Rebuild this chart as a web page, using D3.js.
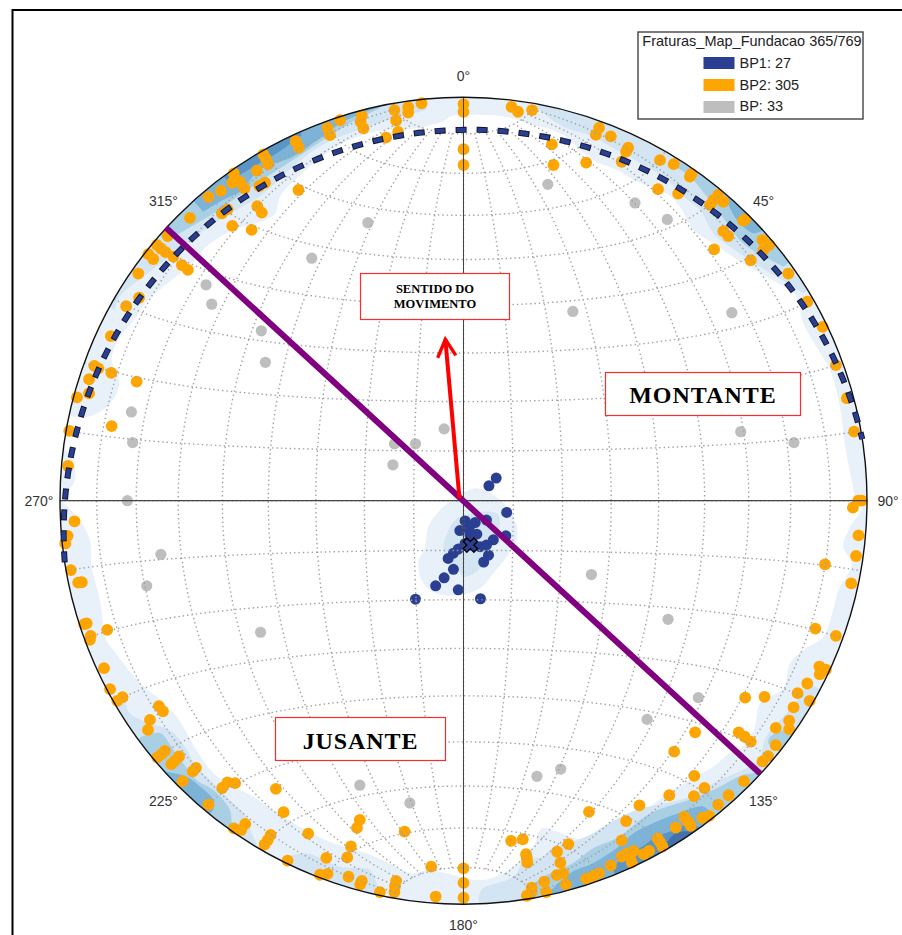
<!DOCTYPE html>
<html>
<head>
    <title>Fraturas Map Fundacao</title>
    <script src="https://d3js.org/d3.v7.min.js"></script>
    <style>
        html, body { margin: 0; padding: 0; background: #fff; overflow: hidden; }
    </style>
</head>
<body>
    <svg id="chart" width="902" height="935"></svg>

    <script>
        const polesBP1 = [[8.1,5.6],[6.3,3.7],[10.7,-2.9],[0.4,-5],[2.9,-5.4],[5.7,-4.8],[-0.9,-7.4],[1.4,-6.8],[1.6,-8.5],[3.3,-8.3],[10.5,-8.7],[7.4,-9.7],[5.7,-11],[4.1,-11.4],[-1.3,-12],[-2.5,-13],[-3.8,-14.3],[6.2,-13.5],[5,-15.2],[-2.5,-17],[-4.8,-19.1],[-6.9,-21.1],[-1.3,-22.1],[-11.9,-24.4],[4.2,-24.3],[1.6,-11],[0.4,-10.6]];
        const polesBP2 = [
            [-10.4,98.5],[-13.7,97.5],[-13.7,96.2],[-17.1,96.8],[-16.7,94.2],[-16.2,91.4],[-19.2,90],[-25.2,95.4],[-25.5,93.9],[-24.8,92.3],
            [-30.6,94.3],[-33.7,92.4],[-33.1,90.6],[-41.6,89.1],[-40.8,87.5],[-49.6,85.8],[-49,84.8],[-48.4,83.4],[-51.2,81.8],[-56.9,81.1],
            [-57.3,78.8],[-55.4,79],[-54.3,77.4],[-49.2,78.8],[-50.6,78],[-60.1,76.8],[-63.2,75.3],[-40.9,77],[-58.5,72.2],[-59.9,71.2],
            [-67.8,70.1],[-51.1,73],[-50,71.4],[-57.3,68.1],[-52.5,67.1],[-73.3,65.6],[-76,63.4],[-75,62.5],[-73.8,61.6],[-78.1,61.1],
            [-76.9,59.9],[-71.9,60.5],[-69.8,58.4],[-68.3,57.2],[-80.6,56.3],[-80.4,50.3],[-83.6,48.2],[-87.4,40.8],[-91.5,33.4],[-90.5,32.8],
            [-87.3,31.7],[-92.8,30.1],[-81,29.5],[-92.8,26.6],[-95.8,25.6],[-87.2,18.5],[-97.7,17.3],[-98,8.6],[-96.4,-5.1],[-98.1,-8.7],
            [-98.7,-10.6],[-97.3,-17.2],[-95.5,-20.3],[-94.6,-20.2],[-94,-30.6],[-93.4,-30.4],[-92.4,-33.5],[-88.3,-32],
            [0,98.3],[0,96.4],[0,87.1],[0,83.2],[11.9,97.6],[13.5,96.4],[17,96.8],[33.6,92.4],[32.8,90.7],[36.5,90.3],
            [21.9,88.3],[22.3,83.2],[30.4,83.8],[40.8,87.5],[40.3,86.5],[39.2,84],[48.7,84.4],[52.1,83.4],[56.5,81],[56.1,80.3],
            [48.2,77.2],[53.2,76.1],[63.1,75.8],[61.9,74.5],[64.4,74.1],[61.1,73.3],[69.8,69.7],[69.3,69.4],[64.4,66.8],[65.6,65.6],
            [62.1,62.3],[74.1,64.6],[75.8,63.4],[74.3,62.1],[71.2,59.6],[80.5,56.3],[85.2,49.3],[89,43.1],[92.3,33.6],[95,25.4],
            [96.8,17.1],[98.7,0],[97.8,0],[96.5,-1.7],[97.9,-8.6],[97.3,-13.7],[89.6,-15.8],[96.1,-20.5],[87.2,-31.7],[92.3,-33.5],
            [-92.6,-34.5],[-89.1,-41.5],[-87.6,-46.7],[-84.5,-48.7],[-85.8,-49.6],[-75.5,-50.9],[-74.5,-52.2],[-77.7,-54.3],[-78.2,-56.8],[-74,-62],
            [-74.8,-62.8],[-75.9,-63.6],[-70.5,-63.4],[-71.5,-64.4],[-72.4,-65.3],[-66.3,-66.2],[-67.1,-67.1],[-69.6,-69.5],[-58.5,-69.8],[-56.6,-70],
            [-59.8,-71.2],[-46.5,-71.4],[-63.2,-75.3],[-44.6,-77.2],[-54.1,-80.1],[-55.1,-81.6],[-56.9,-81.2],[-47.8,-82.8],[-48.5,-84.1],[-49.3,-85.2],
            [-38.5,-82.5],[-25.7,-79.1],[-26.4,-81.1],[-14.6,-82],[-27.9,-85.7],[-28.8,-88.4],[-34,-88.5],[-43.6,-89.2],[-33.7,-92.5],[-35.6,-92.7],
            [-28.5,-93.2],[-25.2,-94.2],[-25.6,-95.1],[-20.7,-97],[-16.7,-94.2],[-17,-95.6],[-17.1,-97],[-8,-90.7],[-6.9,-98.1],
            [0,-91.1],[0,-94.7],[0,-98.4],[11.8,-84.3],[14.7,-83.9],[15.5,-87.6],[15.7,-88.6],[15.8,-89.7],[26,-85.1],[23.2,-87],
            [24,-89.7],[24.7,-92.3],[23.1,-92.8],[25.4,-95.1],[20,-94.4],[16.9,-95.9],[16.9,-97],[15.7,-97.9],[20.5,-97],[31.1,-77.1],
            [40.3,-79.4],[43.6,-75.5],[39.2,-84.2],[36.5,-90.4],[33.6,-92.3],[32.2,-93],[30.4,-93.6],[39.2,-88.2],[40.6,-87.4],[42.2,-86.8],
            [41.3,-88.2],[41.7,-89.7],[44.7,-87.6],[46,-86.8],[48.1,-83.7],[48.7,-84.6],[49.3,-85.7],[52.6,-81],[54.7,-78.3],[55.6,-79.5],
            [56.3,-80.6],[51,-73],[57.2,-68.2],[52.2,-62.2],[57.4,-57.4],[57.1,-73.2],[59.7,-71.2],[63.1,-75.3],[59.2,-78.6],[60.9,-78.1],
            [65.7,-73],[69.5,-69.5],[74.1,-64.6],[75.5,-63.3],[77.4,-60.6],[68.2,-57.4],[69.7,-58.5],[71.2,-59.7],[69.8,-48.8],[74.6,-48.6],
            [77.4,-56.3],[80.7,-54.5],[80.7,-56.6],[81.8,-51.2],[82.8,-47.7],[85.8,-49.6],[85.2,-45.3],[88.2,-41.1],[88.3,-43],[89.8,-41.9]
        ];
        const polesBP = [
            [-23.7,68.9],[-37.6,60.1],[-63.8,53.5],[-62.4,48.7],[-50.1,42.1],[-49.1,34.3],[-82.3,22],[-82,14.4],[-4.8,17.8],[-11.9,14.1],
            [-17.1,14.1],[-17.5,8.9],[-83.3,0],[-75,-13.3],[-78.5,-21.1],[-50.3,-32.6],[20.9,78.4],[42.5,73.8],[50.5,69.7],[27.1,46.9],
            [66.5,46.6],[68.7,17.1],[81.9,14.4],[31.7,-18.3],[50.7,-29.4],[-25.7,-70.5],[-13.3,-74.9],[58.2,-48.8],[45.5,-54.2],[18.2,-68.3],[24.1,-66.5]
        ];
        const meanBP1 = [1.7, -11];
        const sectionLine = [[-73.8, 67.7], [73.5, -67.6]];
        const movementArrow = [[-1, 0.6], [-4.5, 40]];
        const arrowBarbs = [[-6.4, 35.4], [-1.9, 36]];

        const rimEdge = [
            [-3.4,95.2],[4.9,95.6],[10.3,95.2],[17.3,93.1],[23.9,91.1],[32.2,84.4],[38,82],[42.9,79.1],[50.3,76.2],[53.6,72.9],[57,67.1],[61.9,63.8],[69.3,58.8],[79.3,53.1],[82.6,50.6],
            [84.2,43.9],[87.5,38.1],[90.8,32.4],[93.3,23.3],[94.5,14.2],[96.2,5.1],[97.3,0.1],[98.7,-1.9],[95.8,-6.5],[94.1,-11.4],[96.2,-15.6],[92.9,-22.2],[91.6,-27.1],[89.2,-33.7],
            [84.2,-37],[80.9,-40.3],[79.3,-46.5],[73.5,-50.2],[72.2,-56],[69.3,-60.9],[66,-62.6],[61.9,-65.9],[56.1,-69.2],[49.5,-73.3],[42.9,-78.3],[35.5,-82],[29.7,-84.1],[23.1,-82],[19.4,-81.2],[17.3,-85.7],[11.1,-91.5],[4.5,-94],
            [-4.2,-92.3],[-8.4,-91.5],[-13.3,-92.3],[-16.6,-90.7],[-24,-87.4],[-32.3,-84.9],[-40.6,-80.8],[-47.2,-76.6],[-52.1,-73.3],[-57.1,-70.8],[-62,-67.5],[-66.2,-61.8],[-71.1,-53.5],[-76.1,-48.5],[-79.4,-46],[-84.3,-40.3],[-86.8,-37],
            [-88.5,-34.6],[-90.1,-24.6],[-92.2,-16.4],[-92.6,-9.8],[-95.1,-4.8],[-98,-1.5],[-99.4,0.1],[-96.3,5.1],[-97.1,10.9],[-98.8,12.9],[-100.5,16.7],[-98.8,20.8],[-94.2,20.6],[-90.1,22],[-86.4,25.7],[-85.3,29.9],[-87.2,34.8],[-85.6,39.8],[-81,45.6],[-78.6,49.3],
            [-67.4,58.8],[-63.7,63],[-57.1,67.1],[-51.3,68.8],[-46.7,71.2],[-45.5,75.4],[-42.2,79.1],[-35.6,84.9],[-29,89],[-21.6,91.5],[-11.7,92.3],[-4.2,94.4]
        ];
        const level2Bands = [
            [[-9.2,96.8],[-24.9,92.3],[-35.6,87.8],[-42.2,82.8],[-50.5,75.4],[-57.9,71.2],[-65.3,66.3],[-72.8,60.5],[-79.4,55.5],[-85.2,50.6],[-86.4,47.2]],
            [[18.1,97.3],[24.7,92.7],[31.3,90.6],[38,86.9],[44.6,83.2],[49.5,80.3],[54.5,75.4],[58.6,72.1],[61.9,66.3],[66,63],[73.5,58],[81.7,53.1],[84.2,51.4]],
            [[3.7,-98.1],[4.9,-96],[10.7,-94],[13.2,-92.3],[14.8,-89.4],[19.8,-88.2],[21.4,-86.5],[30.5,-83.2],[35.5,-80.3],[42.9,-76.6],[50.3,-75],[56.1,-73.3],[62.7,-69.6],[69.3,-66.7],[73.1,-64.2],[74.7,-59.3],[76,-56.8],[79.3,-53.5],[82.1,-50.2],[84.2,-46.9],[86.3,-45.7]],
            [[-83.9,-48.5],[-82.7,-52.7],[-77.7,-55.2],[-72.8,-56.8],[-69.1,-60.9],[-66.2,-65.9],[-62,-70],[-57.1,-75],[-53.8,-78.3],[-52.5,-82.4],[-51.3,-84.9]],
            [[-43.9,-88.2],[-38.9,-87.4],[-30.6,-90.7],[-23.2,-91.5],[-21.6,-94.8],[-21.6,-97.3]]
        ];
        const level3Bands = [
            [[-20.7,97.3],[-28.2,93.5],[-34.8,89.4],[-42.2,84.5],[-50.5,79.1],[-57.1,74.5],[-62,71.2],[-70.3,66.3],[-73.6,64.2]],
            [[51.2,83.6],[56.1,80.3],[60.3,75.4],[63.6,71.2],[69.3,63.8],[76,59.7],[79.3,58]],
            [[-79.8,-58.5],[-75.2,-57.6],[-71.9,-61.8],[-69.5,-65],[-66.2,-69.2],[-62,-71.7],[-57.9,-76.6],[-57.5,-80.8]],
            [[15.6,-96],[21.4,-92.3],[27.2,-89.8],[32.2,-86.1],[38,-83.6],[46.2,-77.5],[56.1,-74.1],[61.9,-71.7],[69.3,-68],[72.6,-67.5]],
            [[75.5,-60.1],[76,-58.5],[81.7,-56.1]]
        ];
        const level4Bands = [
            [[-21.6,97.3],[-29.8,93.9],[-35.6,89.8],[-42.2,85.3],[-50.5,82],[-55.4,76.6],[-60.4,74.1],[-64.5,71.6]],
            [[65.2,74.5],[67.7,69.6],[71.8,66.3],[74.3,67.1]],
            [[-74,-67.1],[-68.6,-68.4],[-65.3,-70.8],[-62,-74.1],[-62,-76.6]],
            [[21.4,-96.9],[26.4,-92.3],[32.2,-89.8],[38,-86.1],[42.1,-82.4],[47.9,-79.5],[54.5,-77],[59.4,-75.8],[61.5,-77.5]]
        ];
        const level5Bands = [
            [[-40.1,90.6],[-46.3,86.1],[-51.3,83.2],[-56.3,80.3],[-58.7,79.5]],
            [[37.1,-91.5],[38.8,-89],[43.7,-86.1],[47.9,-83.2],[51.2,-82],[55.3,-80.3],[58.2,-80.8]]
        ];
        const level6Bands = [
            [[50.3,-84.9],[52,-82.8],[54.5,-82],[57,-82]]
        ];
        const coreLevel1 = [[3.3,3.1],[7.4,1.4],[10.7,-1.5],[13.2,-6.4],[13.2,-9.7],[10.7,-13.9],[7.4,-18],[4.1,-21.7],[-0.9,-23.4],[-6.6,-23],[-9.9,-20.5],[-11.2,-15.5],[-9.5,-11.4],[-8.7,-6.4],[-5,-1.5],[-0.4,1.8]];
        const coreLevel2 = [[0.8,-3.5],[5.8,-2.7],[8.6,-3.5],[8.6,-8.1],[7,-10.5],[5.8,-13.9],[3.7,-17.2],[0.4,-18.8],[-2.1,-16.3],[-5,-12.2],[-4.2,-8.5],[-2.1,-4.8]];

        const azimuthLabels = ['0°', '45°', '90°', '135°', '180°', '225°', '270°', '315°'];
        const azimuths = [0, 45, 90, 135, 180, 225, 270, 315];
        const legendTitle = 'Fraturas_Map_Fundacao 365/769';
        const legendLabels = ['BP1: 27', 'BP2: 305', 'BP: 33'];
        const legendColors = ['#2a3f92', '#ffa500', '#bebebe'];
        const densityColors = ['#e8f1fa', '#d3e4f2', '#a9cfe4', '#7db3d6', '#5a95c5', '#4372aa'];

        const cx = 463.5;
        const cy = 500.7;
        const R = 403.5;

        const svg = d3.select('#chart');
        const x = d3.scaleLinear().domain([-100, 100]).range([cx - R, cx + R]);
        const y = d3.scaleLinear().domain([-100, 100]).range([cy + R, cy - R]);

        // Schmidt net
        const projection = d3.geoAzimuthalEqualArea()
            .scale(R / Math.SQRT2)
            .translate([cx, cy])
            .clipAngle(90)
            .precision(0.1);
        const geoPath = d3.geoPath(projection);

        svg.append('defs').append('clipPath').attr('id', 'net')
            .append('circle').attr('cx', cx).attr('cy', cy).attr('r', R);

        // frame
        svg.append('path')
            .attr('d', `M12.5,935V10H902`)
            .attr('fill', 'none')
            .attr('stroke', '#000')
            .attr('stroke-width', 2);

        // density contours
        const closedLine = d3.line().x(d => x(d[0])).y(d => y(d[1])).curve(d3.curveCatmullRomClosed);
        const openLine = d3.line().x(d => x(d[0])).y(d => y(d[1])).curve(d3.curveCatmullRom);
        const straightLine = d3.line().x(d => x(d[0])).y(d => y(d[1]));
        const corners = [[-125, -125], [125, -125], [125, 125], [-125, 125]];

        // a band runs from its inner edge out past the rim, the clip path trims it
        function bandPath(inner) {
            const outer = inner.slice().reverse().map(p => {
                const k = 125 / Math.hypot(p[0], p[1]);
                return [p[0] * k, p[1] * k];
            });
            return openLine(inner) + 'L' + straightLine(outer).slice(1) + 'Z';
        }

        const density = svg.append('g').attr('clip-path', 'url(#net)');
        density.append('path')
            .attr('d', straightLine(corners) + 'Z' + closedLine(rimEdge))
            .attr('fill-rule', 'evenodd')
            .attr('fill', densityColors[0]);
        density.append('path').attr('d', closedLine(coreLevel1)).attr('fill', densityColors[0]);
        density.append('path').attr('d', closedLine(coreLevel2)).attr('fill', densityColors[1]);
        [level2Bands, level3Bands, level4Bands, level5Bands, level6Bands].forEach((bands, i) => {
            density.append('g').selectAll('path')
                .data(bands)
                .join('path')
                .attr('d', bandPath)
                .attr('fill', densityColors[i + 1]);
        });

        // poles
        function drawPoles(data, color, r) {
            svg.append('g').selectAll('circle')
                .data(data)
                .join('circle')
                .attr('cx', d => x(d[0]))
                .attr('cy', d => y(d[1]))
                .attr('r', r)
                .attr('fill', color);
        }
        drawPoles(polesBP, legendColors[2], 5.6);
        drawPoles(polesBP2, legendColors[1], 5.9);
        drawPoles(polesBP1, legendColors[0], 5.5);

        // graticule, 10 degree steps
        const lons = d3.range(-80, 81, 10);
        const lats = d3.range(-80, 81, 10);
        const gridLines = [];
        lons.forEach(lon => gridLines.push(d3.range(-80, 80.5, 2).map(lat => [lon, lat])));
        lats.forEach(lat => gridLines.push(d3.range(-90, 90.5, 2).map(lon => [lon, lat])));
        svg.append('path')
            .datum({ type: 'MultiLineString', coordinates: gridLines })
            .attr('d', geoPath)
            .attr('fill', 'none')
            .attr('stroke', '#a0a0a0')
            .attr('stroke-width', 1.4)
            .attr('stroke-dasharray', '1.4 3');

        // cross hair and outline
        svg.append('line')
            .attr('x1', x(-100)).attr('x2', x(100))
            .attr('y1', y(0)).attr('y2', y(0))
            .attr('stroke', '#444').attr('stroke-width', 1.2);
        svg.append('line')
            .attr('x1', x(0)).attr('x2', x(0))
            .attr('y1', y(100)).attr('y2', y(-100))
            .attr('stroke', '#444').attr('stroke-width', 1);
        svg.append('circle')
            .attr('cx', cx).attr('cy', cy).attr('r', R)
            .attr('fill', 'none')
            .attr('stroke', '#111')
            .attr('stroke-width', 1.4);

        // mean plane of BP1, dashed great circle around its pole
        const meanPole = projection.invert([x(meanBP1[0]), y(meanBP1[1])]);
        const meanRing = d3.geoCircle().center(meanPole).radius(90).precision(1)().coordinates[0];
        const meanPlane = { type: 'LineString', coordinates: meanRing };
        svg.append('path')
            .datum(meanPlane)
            .attr('d', geoPath)
            .attr('fill', 'none')
            .attr('stroke', '#10162e')
            .attr('stroke-width', 6)
            .attr('stroke-dasharray', '11 10');
        svg.append('path')
            .datum(meanPlane)
            .attr('d', geoPath)
            .attr('fill', 'none')
            .attr('stroke', legendColors[0])
            .attr('stroke-width', 4.2)
            .attr('stroke-dasharray', '9 12')
            .attr('stroke-dashoffset', -1);

        svg.append('path')
            .attr('d', d3.symbol().type(d3.symbolCross).size(125)())
            .attr('transform', `translate(${x(meanBP1[0])},${y(meanBP1[1])}) rotate(45)`)
            .attr('fill', legendColors[0])
            .attr('stroke', '#000')
            .attr('stroke-width', 1.4);

        // section line
        svg.append('line')
            .attr('x1', x(sectionLine[0][0])).attr('y1', y(sectionLine[0][1]))
            .attr('x2', x(sectionLine[1][0])).attr('y2', y(sectionLine[1][1]))
            .attr('stroke', '#800080')
            .attr('stroke-width', 6);

        // movement arrow
        svg.append('path')
            .attr('d', d3.line().x(d => x(d[0])).y(d => y(d[1]))(movementArrow))
            .attr('fill', 'none').attr('stroke', '#ff0000').attr('stroke-width', 4);
        svg.append('path')
            .attr('d', d3.line().x(d => x(d[0])).y(d => y(d[1]))([arrowBarbs[0], movementArrow[1], arrowBarbs[1]]))
            .attr('fill', 'none').attr('stroke', '#ff0000').attr('stroke-width', 3.4);

        // azimuth labels
        const labelR = R + 21;
        svg.append('g').selectAll('text')
            .data(azimuths)
            .join('text')
            .attr('x', d => {
                if (d % 90 === 0) return cx + Math.sin(d * Math.PI / 180) * labelR;
                return cx + Math.sign(Math.sin(d * Math.PI / 180)) * 300;
            })
            .attr('y', d => {
                if (d % 90 === 0) return cy + 5 - Math.cos(d * Math.PI / 180) * labelR;
                return cy + 5 - Math.sign(Math.cos(d * Math.PI / 180)) * 300;
            })
            .attr('text-anchor', 'middle')
            .attr('font-family', 'Liberation Sans')
            .attr('font-size', 14)
            .attr('fill', '#333')
            .text((d, i) => azimuthLabels[i]);

        // text boxes
        function textBox(x0, y0, w, h, lines, size, spacing, baselines) {
            svg.append('rect')
                .attr('x', x0).attr('y', y0).attr('width', w).attr('height', h)
                .attr('fill', '#fff')
                .attr('stroke', '#ff2b2b')
                .attr('stroke-width', 1.2);
            lines.forEach((t, i) => {
                svg.append('text')
                    .attr('x', x0 + w / 2)
                    .attr('y', baselines[i])
                    .attr('text-anchor', 'middle')
                    .attr('font-family', 'Liberation Serif')
                    .attr('font-weight', 'bold')
                    .attr('font-size', size)
                    .attr('letter-spacing', spacing)
                    .attr('fill', '#000')
                    .text(t);
            });
        }
        textBox(360.5, 273.5, 149, 46, ['SENTIDO DO', 'MOVIMENTO'], 12.5, 0, [293, 308]);
        textBox(605.5, 372.5, 195, 43, ['MONTANTE'], 24, 1, [403]);
        textBox(275.5, 717.5, 170, 43, ['JUSANTE'], 24, 0.9, [749]);

        // legend
        const legend = svg.append('g');
        legend.append('rect')
            .attr('x', 638).attr('y', 32).attr('width', 225).attr('height', 87)
            .attr('fill', '#fff')
            .attr('stroke', '#444')
            .attr('stroke-width', 1.4);
        legend.append('text')
            .attr('x', 752).attr('y', 46)
            .attr('text-anchor', 'middle')
            .attr('font-family', 'Liberation Sans')
            .attr('font-size', 14.5)
            .attr('fill', '#222')
            .text(legendTitle);
        legendLabels.forEach((label, i) => {
            legend.append('rect')
                .attr('x', 703.5).attr('y', 57 + i * 22)
                .attr('width', 31).attr('height', 12)
                .attr('fill', legendColors[i]);
            legend.append('text')
                .attr('x', 739.5).attr('y', 68 + i * 21.7)
                .attr('font-family', 'Liberation Sans')
                .attr('font-size', 14.5)
                .attr('fill', '#222')
                .text(label);
        });
    </script>
</body>
</html>
